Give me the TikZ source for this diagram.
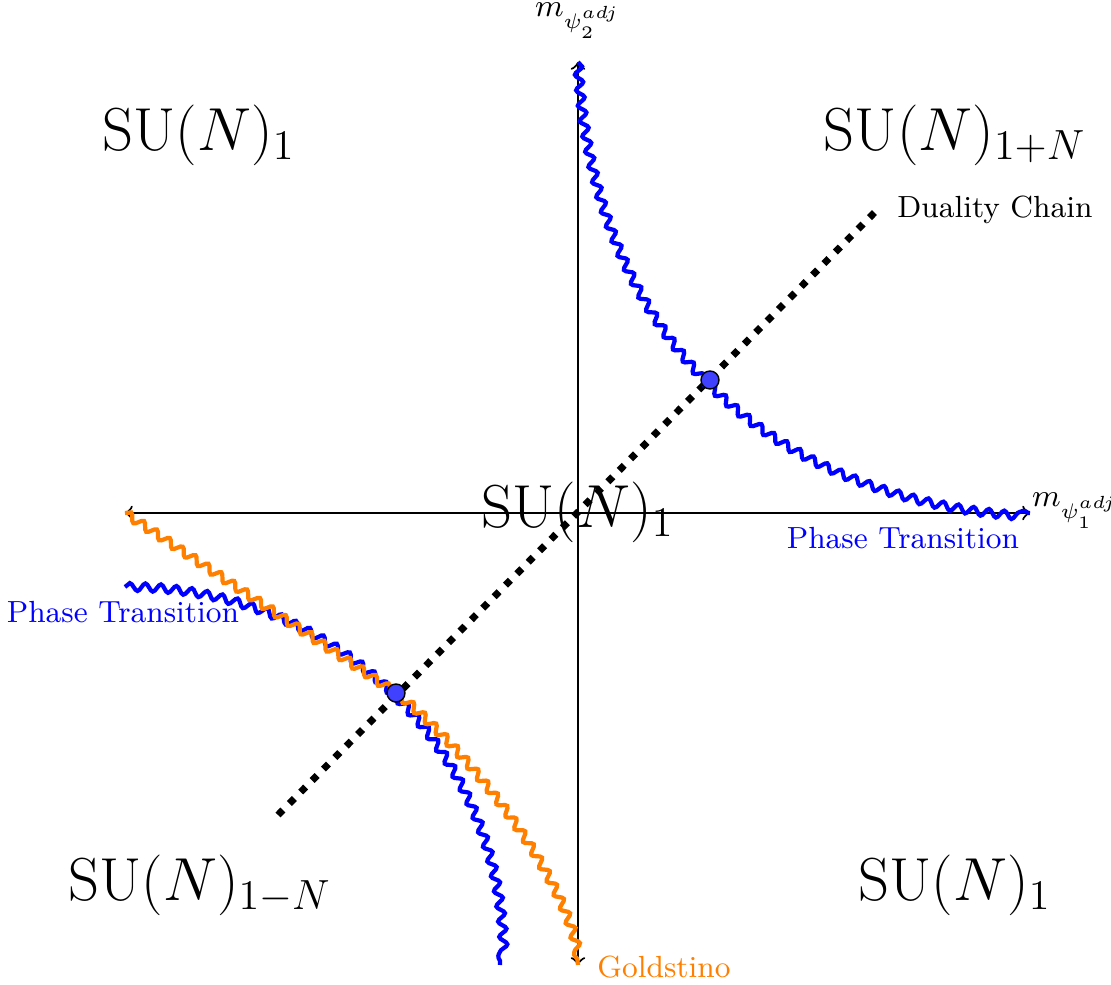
\documentclass[tikz,border=0pt]{standalone}
\usetikzlibrary{decorations.pathmorphing}
\begin{document}
\begin{tikzpicture}[
  phase/.style={font=\fontsize{16.8}{20}\selectfont},
  tag/.style={font=\fontsize{8.7}{10}\selectfont},
  wavy/.style={line width=1.2pt, decorate, decoration={snake, amplitude=1.1pt, segment length=4.4pt}},
  crossing/.style={circle, draw=black, fill=blue!75, inner sep=0pt, minimum size=0.18cm},
]
\useasboundingbox (-5.78,-4.72) rectangle (5.33,5.13);

% axes
\coordinate (xl) at (-4.53,0);
\coordinate (xr) at (4.52,0);
\coordinate (yt) at (0,4.51);
\coordinate (yb) at (0,-4.52);
\draw[semithick, <->] (xl) -- (xr);
\draw[semithick, <->] (yb) -- (yt);
\node[tag, anchor=west, inner sep=1pt] (mone) at (4.50,0.02) {$m_{\psi_1^{adj}}$};
\node[tag, inner sep=0.5pt] (mtwo) at (0,4.92) {$m_{\psi_2^{adj}}$};

% phases
\node[phase] (nw) at (-3.79,3.78) {$\mathrm{SU}(N)_1$};
\node[phase] (ne) at (3.77,3.78) {$\mathrm{SU}(N)_{1+N}$};
\node[phase] (mid) at (0,0.01) {$\mathrm{SU}(N)_1$};
\node[phase] (sw) at (-3.78,-3.72) {$\mathrm{SU}(N)_{1-N}$};
\node[phase] (se) at (3.77,-3.72) {$\mathrm{SU}(N)_1$};

% duality chain
\coordinate (dlo) at (-3.0,-3.02);
\coordinate (dhi) at (2.99,3.03);
\draw[line width=2pt, dash pattern=on 2pt off 2.6pt] (dlo) -- (dhi);
\node[tag, anchor=west] (chain) at (3.07,3.03) {Duality Chain};

% phase transitions
\coordinate (blo) at (-4.53,-0.74);
\coordinate (bhi) at (-0.78,-4.52);
\coordinate (gx) at (-1.82,-1.80);
\draw[blue, wavy] (yt) .. controls (0.15,1.85) and (1.85,0.15) .. (xr);
\draw[blue, wavy] (blo) .. controls (-2.42,-0.74) and (-0.74,-2.42) .. (bhi);
\draw[orange, wavy] (xl) -- (gx) .. controls (-1.2,-2.3) and (-0.1,-3.6) .. (yb);
\node[tag, text=blue] (ptr) at (3.25,-0.25) {Phase Transition};
\node[tag, text=blue] (ptl) at (-4.55,-0.99) {Phase Transition};
\node[tag, text=orange, anchor=west] (gold) at (0.07,-4.54) {Goldstino};

% crossing points
\node[crossing] (cup) at (1.32,1.33) {};
\node[crossing] (cdown) at (gx) {};
\end{tikzpicture}
\end{document}
